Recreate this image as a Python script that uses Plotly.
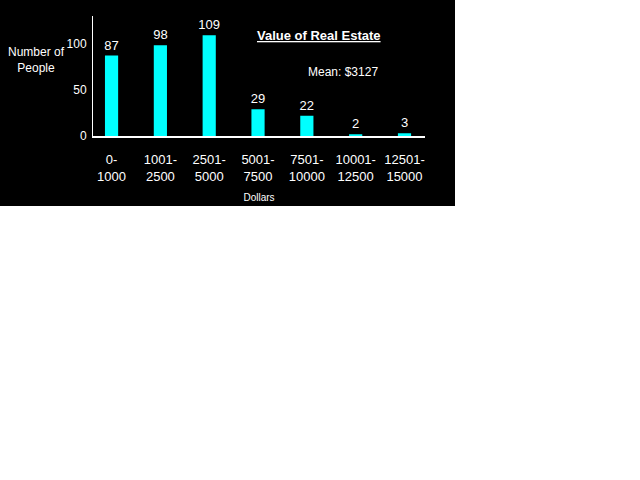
import plotly.graph_objects as go

# value of real estate, counts per dollar band
categories = ["0-<br>1000", "1001-<br>2500", "2501-<br>5000", "5001-<br>7500",
              "7501-<br>10000", "10001-<br>12500", "12501-<br>15000"]
people = [87, 98, 109, 29, 22, 2, 3]
y_ticks = [0, 50, 100]

W, H = 640, 480
FONT = "Liberation Sans, Arial, sans-serif"

fig = go.Figure()
fig.add_trace(go.Bar(
    x=list(range(len(categories))),
    y=people,
    width=0.27,
    marker=dict(color="#00FFFF", line=dict(width=0)),
    text=[str(v) for v in people],
    textposition="outside",
    constraintext="none",
    textfont=dict(color="white", size=13, family=FONT),
    cliponaxis=False,
))

# black panel behind the chart (top-left part of the page only)
fig.add_shape(type="rect", xref="paper", yref="paper",
              x0=0, x1=455 / W, y0=1 - 209 / H, y1=1,
              fillcolor="black", line=dict(width=0), layer="below")

fig.add_annotation(text="<b><u>Value of Real Estate</u></b>", xref="paper", yref="paper",
                   x=319 / W, y=1 - 36 / H, xanchor="center", yanchor="middle",
                   showarrow=False,
                   font=dict(color="white", size=13, family=FONT))
fig.add_annotation(text="Mean: $3127", xref="paper", yref="paper",
                   x=343 / W, y=1 - 73 / H, xanchor="center", yanchor="middle",
                   showarrow=False,
                   font=dict(color="white", size=12, family=FONT))
fig.add_annotation(text="Number of<br>People", xref="paper", yref="paper",
                   x=36 / W, y=1 - 61 / H, xanchor="center", yanchor="middle",
                   showarrow=False, align="center",
                   font=dict(color="white", size=12, family=FONT))

fig.update_layout(
    width=W, height=H,
    margin=dict(l=0, r=0, t=0, b=0),
    paper_bgcolor="white",
    plot_bgcolor="rgba(0,0,0,0)",
    showlegend=False,
    xaxis=dict(
        domain=[93 / W, 425 / W],
        range=[-0.38, 6.42],
        tickmode="array",
        tickvals=list(range(len(categories))),
        ticktext=categories,
        tickfont=dict(color="white", size=13, family=FONT),
        ticks="", showgrid=False, zeroline=False,
        showline=True, linecolor="white", linewidth=1.5,
        ticklabelstandoff=11,
        title=dict(text="Dollars", font=dict(color="white", size=10, family=FONT), standoff=11),
    ),
    yaxis=dict(
        domain=[1 - 138 / H, 1 - 16 / H],
        range=[0, 130],
        tickmode="array",
        tickvals=y_ticks,
        tickfont=dict(color="white", size=12, family=FONT),
        ticks="", showgrid=False, zeroline=False,
        showline=True, linecolor="white", linewidth=1,
        ticklabelstandoff=3,
    ),
)

# drop the default page margin so the chart sits at the window corner
page_js = ("document.body.style.margin='0';"
           "document.documentElement.style.overflow='hidden';")
fig.write_html("out.html", post_script=page_js, config={"displayModeBar": False})
